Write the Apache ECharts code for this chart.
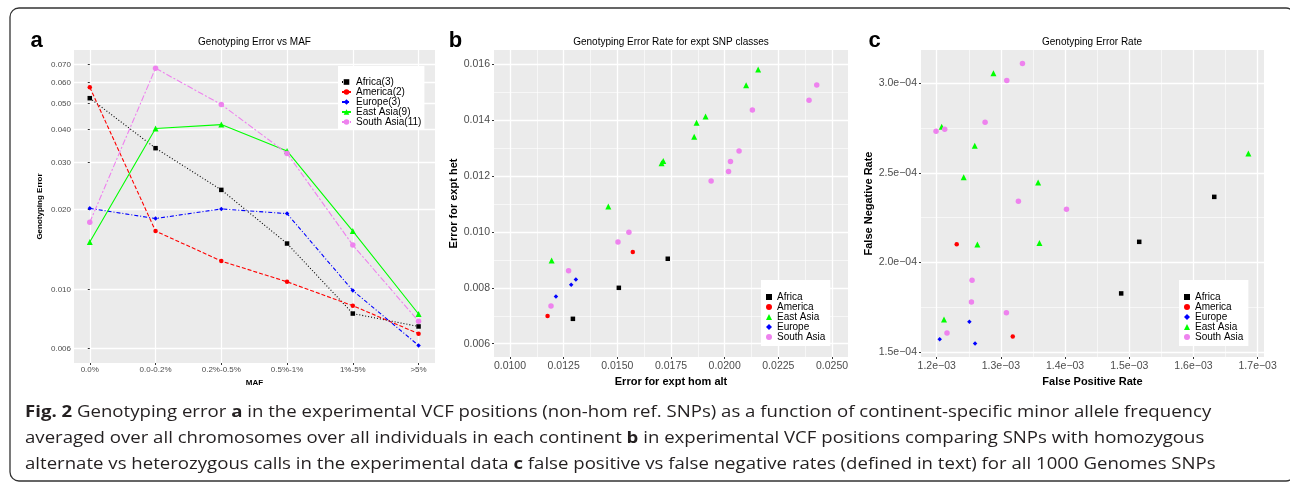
<!DOCTYPE html>
<html>
<head>
<meta charset="utf-8">
<title>Genotyping error</title>
<script src="https://cdn.jsdelivr.net/npm/echarts@6/dist/echarts.min.js"></script>
<style>
  html, body { margin: 0; padding: 0; background: #fff; }
  #chart { width: 1290px; height: 483px; }
</style>
</head>
<body>
<div id="chart"></div>
<script>
var FONT = '"Liberation Sans", Arial, sans-serif'

// panel a: genotyping error per MAF bin (log y)
var mafBins = ['0.0%', '0.0-0.2%', '0.2%-0.5%', '0.5%-1%', '1%-5%', '>5%']
var africaA = [0.0524, 0.0340, 0.0237, 0.0149, 0.00813, 0.00727]
var americaA = [0.0576, 0.0166, 0.0128, 0.0107, 0.0087, 0.00683]
var europeA = [0.0202, 0.0185, 0.0201, 0.0193, 0.00992, 0.00617]
var eastAsiaA = [0.0151, 0.0403, 0.0417, 0.0332, 0.0166, 0.0081]
var southAsiaA = [0.0179, 0.0679, 0.0496, 0.0325, 0.0147, 0.0076]
var aYTicks = [0.006, 0.010, 0.020, 0.030, 0.040, 0.050, 0.060, 0.070]
var aYLabels = ['0.006', '0.010', '0.020', '0.030', '0.040', '0.050', '0.060', '0.070']

// panel b: [hom alt error, het error]
var africaB = [[0.01293, 0.00689], [0.01507, 0.00800], [0.01735, 0.00904]]
var americaB = [[0.01175, 0.00699], [0.01572, 0.00928]]
var eastAsiaB = [[0.01194, 0.00898], [0.01458, 0.01091], [0.01706, 0.01246], [0.01714, 0.01254], [0.01858, 0.01341],
  [0.01869, 0.01391], [0.01911, 0.01413], [0.02100, 0.01525], [0.02156, 0.01581]]
var europeB = [[0.01214, 0.00769], [0.01285, 0.00811], [0.01307, 0.00830]]
var southAsiaB = [[0.01191, 0.00735], [0.01273, 0.00861], [0.01503, 0.00964], [0.01554, 0.00999], [0.01937, 0.01182],
  [0.02018, 0.01216], [0.02027, 0.01252], [0.02067, 0.01290], [0.02129, 0.01436], [0.02393, 0.01471], [0.02429, 0.01526]]
var bXTicks = [0.0100, 0.0125, 0.0150, 0.0175, 0.0200, 0.0225, 0.0250]
var bXLabels = ['0.0100', '0.0125', '0.0150', '0.0175', '0.0200', '0.0225', '0.0250']
var bXMinor = [0.01125, 0.01375, 0.01625, 0.01875, 0.02125, 0.02375]
var bYTicks = [0.006, 0.008, 0.010, 0.012, 0.014, 0.016]
var bYLabels = ['0.006', '0.008', '0.010', '0.012', '0.014', '0.016']
var bYMinor = [0.007, 0.009, 0.011, 0.013, 0.015]

// panel c: [false positive rate, false negative rate]
var africaC = [[1.4874e-3, 1.827e-4], [1.5155e-3, 2.115e-4], [1.6324e-3, 2.366e-4]]
var americaC = [[1.2312e-3, 2.102e-4], [1.3185e-3, 1.587e-4]]
var europeC = [[1.2047e-3, 1.571e-4], [1.2509e-3, 1.669e-4], [1.2598e-3, 1.548e-4]]
var eastAsiaC = [[1.2078e-3, 2.757e-4], [1.2114e-3, 1.682e-4], [1.2421e-3, 2.476e-4], [1.2593e-3, 2.652e-4], [1.2634e-3, 2.100e-4],
  [1.2884e-3, 3.056e-4], [1.3580e-3, 2.446e-4], [1.3601e-3, 2.108e-4], [1.6855e-3, 2.608e-4]]
var southAsiaC = [[1.1990e-3, 2.732e-4], [1.2125e-3, 2.744e-4], [1.2754e-3, 2.783e-4], [1.3092e-3, 3.015e-4], [1.3336e-3, 3.110e-4],
  [1.3273e-3, 2.342e-4], [1.4022e-3, 2.297e-4], [1.2551e-3, 1.900e-4], [1.2541e-3, 1.779e-4], [1.3086e-3, 1.719e-4], [1.2161e-3, 1.606e-4]]
var cXTicks = [0.0012, 0.0013, 0.0014, 0.0015, 0.0016, 0.0017]
var cXLabels = ['1.2e\u221203', '1.3e\u221203', '1.4e\u221203', '1.5e\u221203', '1.6e\u221203', '1.7e\u221203']
var cXMinor = [0.00125, 0.00135, 0.00145, 0.00155, 0.00165]
var cYTicks = [0.00015, 0.0002, 0.00025, 0.0003]
var cYLabels = ['1.5e\u221204', '2.0e\u221204', '2.5e\u221204', '3.0e\u221204']
var cYMinor = [0.000175, 0.000225, 0.000275]

var captionLines = [
  '{b|Fig. 2} Genotyping error {b|a} in the experimental VCF positions (non-hom ref. SNPs) as a function of continent-specific minor allele frequency',
  'averaged over all chromosomes over all individuals in each continent {b|b} in experimental VCF positions comparing SNPs with homozygous',
  'alternate vs heterozygous calls in the experimental data {b|c} false positive vs false negative rates (defined in text) for all 1000 Genomes SNPs'
]

var looks = {
  Africa: { color: '#000000', symbol: 'rect', size: 4.5, dash: [1, 2] },
  America: { color: '#ff0000', symbol: 'circle', size: 4.5, dash: [4, 2] },
  Europe: { color: '#0000ff', symbol: 'diamond', size: 4.5, dash: [4, 2, 1, 2] },
  'East Asia': { color: '#00ff00', symbol: 'triangle', size: 6, dash: 'solid' },
  'South Asia': { color: '#ee82ee', symbol: 'circle', size: 5.5, dash: [6, 2, 2, 2] }
}

function labelOf(ticks, labels) {
  return function (v) {
    for (var i = 0; i < ticks.length; i++) {
      if (Math.abs(ticks[i] - v) <= Math.abs(ticks[i]) * 1e-6) return labels[i]
    }
    return ''
  }
}

function majorAxis(grid, type, min, max, ticks, labels, fontSize, name, nameSize, nameGap) {
  return {
    type: type,
    gridIndex: grid,
    min: min,
    max: max,
    name: name,
    nameLocation: 'middle',
    nameGap: nameGap,
    nameTextStyle: { fontWeight: 'bold', fontSize: nameSize, color: '#000', fontFamily: FONT },
    axisLine: { show: false },
    axisTick: { show: true, length: 2, customValues: ticks, lineStyle: { color: '#333', width: 1 } },
    axisLabel: { customValues: ticks, formatter: labelOf(ticks, labels), color: '#4d4d4d', fontSize: fontSize, margin: 4, fontFamily: FONT },
    splitLine: { show: true, lineStyle: { color: '#ffffff', width: 1.3 } }
  }
}

function minorAxis(grid, min, max, ticks, pos) {
  return {
    type: 'value',
    gridIndex: grid,
    position: pos,
    min: min,
    max: max,
    axisLine: { show: false },
    axisTick: { show: false, customValues: ticks },
    axisLabel: { show: false, customValues: ticks },
    splitLine: { show: true, lineStyle: { color: '#ffffff', width: 0.6 } }
  }
}

var xA = majorAxis(0, 'value', -0.24, 5.25, [0, 1, 2, 3, 4, 5], mafBins, 8, 'MAF', 8, 14)
xA.axisLabel.margin = 3
xA.splitLine.lineStyle.width = 1.2
var yA = majorAxis(0, 'log', 0.0053, 0.0795, aYTicks, aYLabels, 8, 'Genotyping Error', 8, 30)
yA.logBase = 10
yA.axisLabel.margin = 3

var chart = echarts.init(document.getElementById('chart'))

function lineSeries(name, count, values) {
  var lk = looks[name]
  return {
    name: name + '(' + count + ')',
    type: 'line',
    xAxisIndex: 0,
    yAxisIndex: 0,
    data: values.map(function (v, i) { return [i, v] }),
    symbol: lk.symbol,
    symbolSize: lk.size,
    color: lk.color,
    itemStyle: { color: lk.color },
    lineStyle: { color: lk.color, width: 1.1, type: lk.dash }
  }
}

function scatterSeries(name, axis, values) {
  var lk = looks[name]
  return {
    name: name,
    type: 'scatter',
    xAxisIndex: axis,
    yAxisIndex: axis,
    data: values,
    symbol: lk.symbol,
    symbolSize: lk.size,
    itemStyle: { color: lk.color, opacity: 1 }
  }
}

var legendText = { fontSize: 10, color: '#000', fontFamily: FONT, lineHeight: 9.6 }
var capFont = '"Open Sans", sans-serif'

chart.setOption({
  animation: false,
  grid: [
    { left: 74, top: 50, width: 361, height: 313, show: true, backgroundColor: '#ebebeb', borderWidth: 0 },
    { left: 494, top: 50, width: 354, height: 307, show: true, backgroundColor: '#ebebeb', borderWidth: 0 },
    { left: 921, top: 50, width: 343, height: 307, show: true, backgroundColor: '#ebebeb', borderWidth: 0 }
  ],
  xAxis: [
    xA,
    majorAxis(1, 'value', 0.009255, 0.025745, bXTicks, bXLabels, 10.5, 'Error for expt hom alt', 11, 16),
    minorAxis(1, 0.009255, 0.025745, bXMinor, 'bottom'),
    majorAxis(2, 'value', 0.00117557, 0.00170988, cXTicks, cXLabels, 10.5, 'False Positive Rate', 11, 16),
    minorAxis(2, 0.00117557, 0.00170988, cXMinor, 'bottom')
  ],
  yAxis: [
    yA,
    majorAxis(1, 'value', 0.005524, 0.016511, bYTicks, bYLabels, 10.5, 'Error for expt het', 11, 35),
    minorAxis(1, 0.005524, 0.016511, bYMinor, 'left'),
    majorAxis(2, 'value', 0.00014721, 0.000318587, cYTicks, cYLabels, 10.5, 'False Negative Rate', 11, 47),
    minorAxis(2, 0.00014721, 0.000318587, cYMinor, 'left')
  ],
  legend: [
    {
      left: 338, top: 66, orient: 'vertical', padding: [11, 3, 3, 3], itemGap: 0,
      itemWidth: 9, itemHeight: 7, backgroundColor: '#ffffff', selectedMode: false,
      textStyle: { fontSize: 10, color: '#000', fontFamily: FONT, lineHeight: 9.6 },
      data: ['Africa(3)', 'America(2)', 'Europe(3)', 'East Asia(9)', 'South Asia(11)']
    },
    {
      left: 761, top: 280, orient: 'vertical', padding: [12, 5, 4, 5], itemGap: 0,
      itemWidth: 6, itemHeight: 6, backgroundColor: '#ffffff', selectedMode: false,
      textStyle: legendText,
      data: ['Africa', 'America', 'East Asia', 'Europe', 'South Asia']
    },
    {
      left: 1179, top: 280, orient: 'vertical', padding: [12, 5, 4, 5], itemGap: 0,
      itemWidth: 6, itemHeight: 6, backgroundColor: '#ffffff', selectedMode: false,
      textStyle: legendText,
      data: ['Africa', 'America', 'Europe', 'East Asia', 'South Asia']
    }
  ],
  series: [
    lineSeries('Africa', 3, africaA),
    lineSeries('America', 2, americaA),
    lineSeries('Europe', 3, europeA),
    lineSeries('East Asia', 9, eastAsiaA),
    lineSeries('South Asia', 11, southAsiaA),
    scatterSeries('Africa', 1, africaB),
    scatterSeries('America', 1, americaB),
    scatterSeries('East Asia', 1, eastAsiaB),
    scatterSeries('Europe', 1, europeB),
    scatterSeries('South Asia', 1, southAsiaB),
    scatterSeries('Africa', 3, africaC),
    scatterSeries('America', 3, americaC),
    scatterSeries('Europe', 3, europeC),
    scatterSeries('East Asia', 3, eastAsiaC),
    scatterSeries('South Asia', 3, southAsiaC)
  ],
  graphic: [
    {
      type: 'rect', silent: true,
      shape: { x: 10, y: 8, width: 1285, height: 473, r: 9 },
      style: { fill: 'none', stroke: '#333', lineWidth: 1.3 }
    },
    // panel letters
    { type: 'text', x: 36.5, y: 41, style: { text: 'a', font: 'bold 22px ' + FONT, fill: '#000', align: 'center', verticalAlign: 'middle' } },
    { type: 'text', x: 455.5, y: 41, style: { text: 'b', font: 'bold 22px ' + FONT, fill: '#000', align: 'center', verticalAlign: 'middle' } },
    { type: 'text', x: 874.5, y: 41, style: { text: 'c', font: 'bold 22px ' + FONT, fill: '#000', align: 'center', verticalAlign: 'middle' } },
    // panel titles
    { type: 'text', x: 254.5, y: 42, style: { text: 'Genotyping Error vs MAF', font: '10px ' + FONT, fill: '#000', align: 'center', verticalAlign: 'middle' } },
    { type: 'text', x: 671, y: 42, style: { text: 'Genotyping Error Rate for expt SNP classes', font: '10px ' + FONT, fill: '#000', align: 'center', verticalAlign: 'middle' } },
    { type: 'text', x: 1092, y: 42, style: { text: 'Genotyping Error Rate', font: '10px ' + FONT, fill: '#000', align: 'center', verticalAlign: 'middle' } }
  ].concat(captionLines.map(function (line, i) {
    // the caption face is wider than Open Sans, so stretch it to the same line length
    return {
      type: 'text', x: 25, y: 413 + i * 26, scaleX: 1.2,
      style: {
        text: line, font: '15.5px ' + capFont, fill: '#231f20', align: 'left', verticalAlign: 'middle',
        rich: { b: { fontWeight: 'bold', fontSize: 15.5, fontFamily: capFont, fill: '#231f20' } }
      }
    }
  }))
})
</script>
</body>
</html>
